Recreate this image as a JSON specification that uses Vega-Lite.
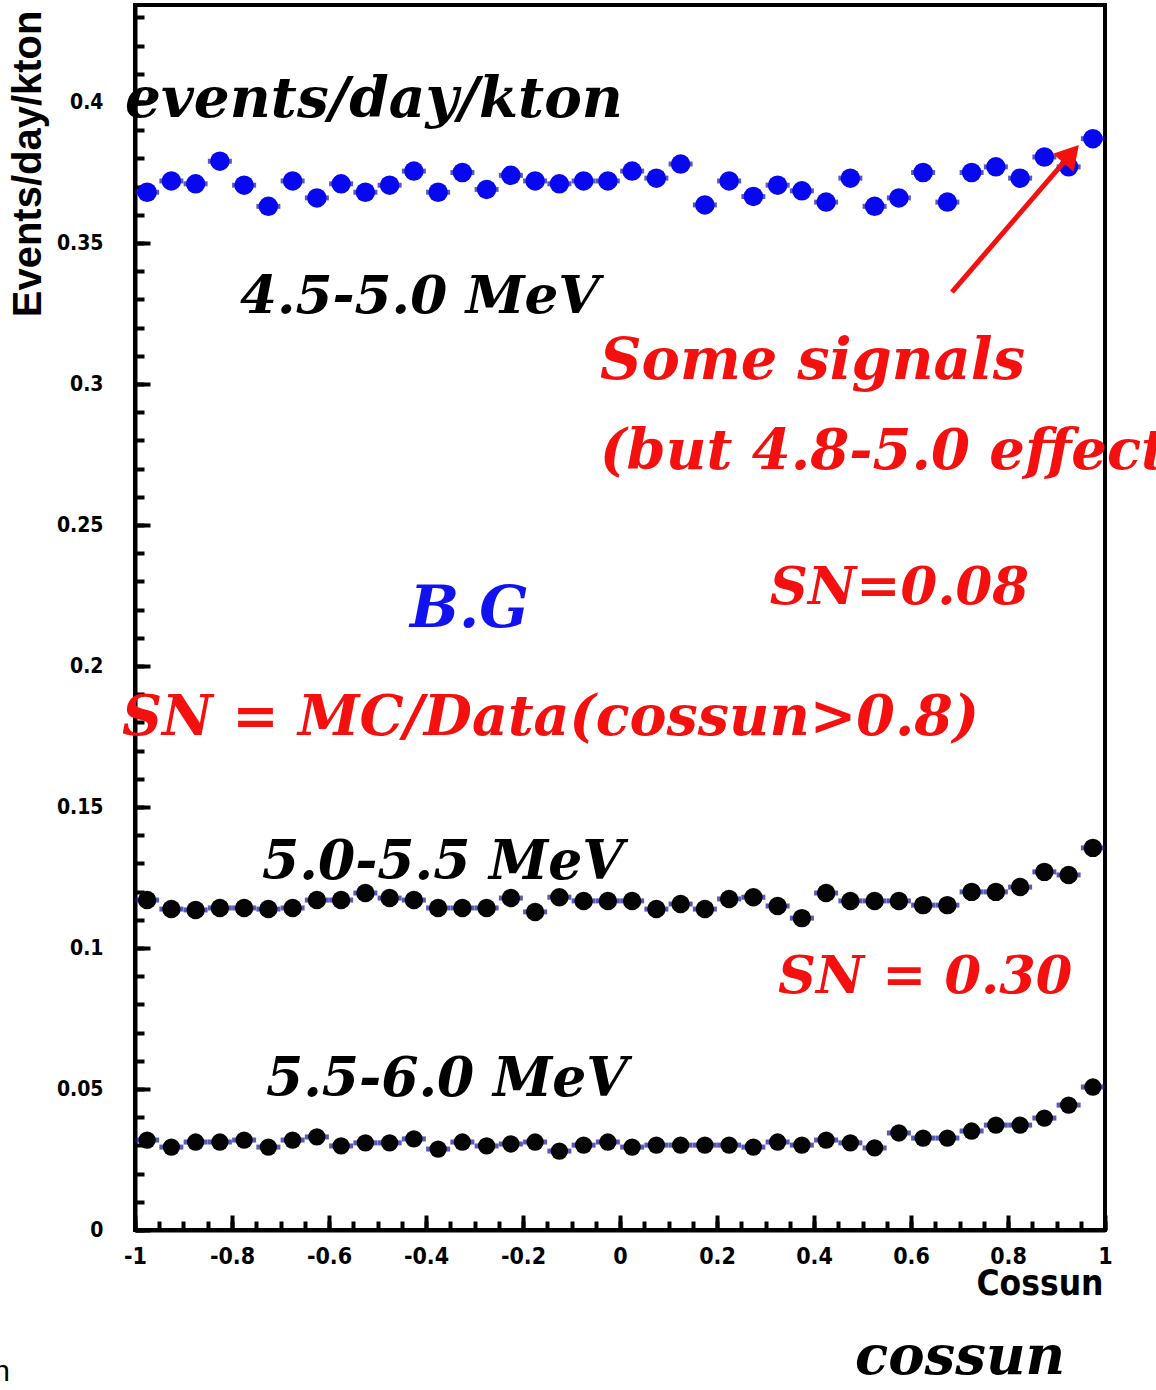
{
  "$schema": "https://vega.github.io/schema/vega-lite/v6.json",
  "width": 970,
  "height": 1225,
  "autosize": "none",
  "padding": {"left": 135, "top": 5, "right": 51, "bottom": 160},
  "background": "white",
  "config": {"view": {"stroke": "black", "strokeWidth": 4}, "axis": {"grid": false}},
  "datasets": {
    "one": [{}],
    "pts": [
      {"band": "4.5-5.0 MeV", "cossun": -0.975, "rate": 0.368},
      {"band": "4.5-5.0 MeV", "cossun": -0.925, "rate": 0.372},
      {"band": "4.5-5.0 MeV", "cossun": -0.875, "rate": 0.371},
      {"band": "4.5-5.0 MeV", "cossun": -0.825, "rate": 0.379},
      {"band": "4.5-5.0 MeV", "cossun": -0.775, "rate": 0.3705},
      {"band": "4.5-5.0 MeV", "cossun": -0.725, "rate": 0.363},
      {"band": "4.5-5.0 MeV", "cossun": -0.675, "rate": 0.372},
      {"band": "4.5-5.0 MeV", "cossun": -0.625, "rate": 0.366},
      {"band": "4.5-5.0 MeV", "cossun": -0.575, "rate": 0.371},
      {"band": "4.5-5.0 MeV", "cossun": -0.525, "rate": 0.368},
      {"band": "4.5-5.0 MeV", "cossun": -0.475, "rate": 0.3705},
      {"band": "4.5-5.0 MeV", "cossun": -0.425, "rate": 0.3755},
      {"band": "4.5-5.0 MeV", "cossun": -0.375, "rate": 0.368},
      {"band": "4.5-5.0 MeV", "cossun": -0.325, "rate": 0.375},
      {"band": "4.5-5.0 MeV", "cossun": -0.275, "rate": 0.369},
      {"band": "4.5-5.0 MeV", "cossun": -0.225, "rate": 0.374},
      {"band": "4.5-5.0 MeV", "cossun": -0.175, "rate": 0.372},
      {"band": "4.5-5.0 MeV", "cossun": -0.125, "rate": 0.371},
      {"band": "4.5-5.0 MeV", "cossun": -0.075, "rate": 0.372},
      {"band": "4.5-5.0 MeV", "cossun": -0.025, "rate": 0.372},
      {"band": "4.5-5.0 MeV", "cossun": 0.025, "rate": 0.3755},
      {"band": "4.5-5.0 MeV", "cossun": 0.075, "rate": 0.373},
      {"band": "4.5-5.0 MeV", "cossun": 0.125, "rate": 0.378},
      {"band": "4.5-5.0 MeV", "cossun": 0.175, "rate": 0.3635},
      {"band": "4.5-5.0 MeV", "cossun": 0.225, "rate": 0.372},
      {"band": "4.5-5.0 MeV", "cossun": 0.275, "rate": 0.3665},
      {"band": "4.5-5.0 MeV", "cossun": 0.325, "rate": 0.3705},
      {"band": "4.5-5.0 MeV", "cossun": 0.375, "rate": 0.3685},
      {"band": "4.5-5.0 MeV", "cossun": 0.425, "rate": 0.3645},
      {"band": "4.5-5.0 MeV", "cossun": 0.475, "rate": 0.373},
      {"band": "4.5-5.0 MeV", "cossun": 0.525, "rate": 0.363},
      {"band": "4.5-5.0 MeV", "cossun": 0.575, "rate": 0.366},
      {"band": "4.5-5.0 MeV", "cossun": 0.625, "rate": 0.375},
      {"band": "4.5-5.0 MeV", "cossun": 0.675, "rate": 0.3645},
      {"band": "4.5-5.0 MeV", "cossun": 0.725, "rate": 0.375},
      {"band": "4.5-5.0 MeV", "cossun": 0.775, "rate": 0.377},
      {"band": "4.5-5.0 MeV", "cossun": 0.825, "rate": 0.373},
      {"band": "4.5-5.0 MeV", "cossun": 0.875, "rate": 0.3805},
      {"band": "4.5-5.0 MeV", "cossun": 0.925, "rate": 0.377},
      {"band": "4.5-5.0 MeV", "cossun": 0.975, "rate": 0.387},
      {"band": "5.0-5.5 MeV", "cossun": -0.975, "rate": 0.117},
      {"band": "5.0-5.5 MeV", "cossun": -0.925, "rate": 0.1138},
      {"band": "5.0-5.5 MeV", "cossun": -0.875, "rate": 0.1135},
      {"band": "5.0-5.5 MeV", "cossun": -0.825, "rate": 0.1142},
      {"band": "5.0-5.5 MeV", "cossun": -0.775, "rate": 0.1142},
      {"band": "5.0-5.5 MeV", "cossun": -0.725, "rate": 0.1138},
      {"band": "5.0-5.5 MeV", "cossun": -0.675, "rate": 0.1142},
      {"band": "5.0-5.5 MeV", "cossun": -0.625, "rate": 0.117},
      {"band": "5.0-5.5 MeV", "cossun": -0.575, "rate": 0.117},
      {"band": "5.0-5.5 MeV", "cossun": -0.525, "rate": 0.1195},
      {"band": "5.0-5.5 MeV", "cossun": -0.475, "rate": 0.1177},
      {"band": "5.0-5.5 MeV", "cossun": -0.425, "rate": 0.117},
      {"band": "5.0-5.5 MeV", "cossun": -0.375, "rate": 0.1142},
      {"band": "5.0-5.5 MeV", "cossun": -0.325, "rate": 0.1142},
      {"band": "5.0-5.5 MeV", "cossun": -0.275, "rate": 0.1142},
      {"band": "5.0-5.5 MeV", "cossun": -0.225, "rate": 0.1177},
      {"band": "5.0-5.5 MeV", "cossun": -0.175, "rate": 0.1128},
      {"band": "5.0-5.5 MeV", "cossun": -0.125, "rate": 0.118},
      {"band": "5.0-5.5 MeV", "cossun": -0.075, "rate": 0.1167},
      {"band": "5.0-5.5 MeV", "cossun": -0.025, "rate": 0.1167},
      {"band": "5.0-5.5 MeV", "cossun": 0.025, "rate": 0.1167},
      {"band": "5.0-5.5 MeV", "cossun": 0.075, "rate": 0.1138},
      {"band": "5.0-5.5 MeV", "cossun": 0.125, "rate": 0.1156},
      {"band": "5.0-5.5 MeV", "cossun": 0.175, "rate": 0.1138},
      {"band": "5.0-5.5 MeV", "cossun": 0.225, "rate": 0.1174},
      {"band": "5.0-5.5 MeV", "cossun": 0.275, "rate": 0.118},
      {"band": "5.0-5.5 MeV", "cossun": 0.325, "rate": 0.1149},
      {"band": "5.0-5.5 MeV", "cossun": 0.375, "rate": 0.1106},
      {"band": "5.0-5.5 MeV", "cossun": 0.425, "rate": 0.1195},
      {"band": "5.0-5.5 MeV", "cossun": 0.475, "rate": 0.1167},
      {"band": "5.0-5.5 MeV", "cossun": 0.525, "rate": 0.1167},
      {"band": "5.0-5.5 MeV", "cossun": 0.575, "rate": 0.1167},
      {"band": "5.0-5.5 MeV", "cossun": 0.625, "rate": 0.1152},
      {"band": "5.0-5.5 MeV", "cossun": 0.675, "rate": 0.1152},
      {"band": "5.0-5.5 MeV", "cossun": 0.725, "rate": 0.1199},
      {"band": "5.0-5.5 MeV", "cossun": 0.775, "rate": 0.1199},
      {"band": "5.0-5.5 MeV", "cossun": 0.825, "rate": 0.1216},
      {"band": "5.0-5.5 MeV", "cossun": 0.875, "rate": 0.127},
      {"band": "5.0-5.5 MeV", "cossun": 0.925, "rate": 0.1259},
      {"band": "5.0-5.5 MeV", "cossun": 0.975, "rate": 0.1355},
      {"band": "5.5-6.0 MeV", "cossun": -0.975, "rate": 0.0319},
      {"band": "5.5-6.0 MeV", "cossun": -0.925, "rate": 0.0294},
      {"band": "5.5-6.0 MeV", "cossun": -0.875, "rate": 0.0312},
      {"band": "5.5-6.0 MeV", "cossun": -0.825, "rate": 0.0312},
      {"band": "5.5-6.0 MeV", "cossun": -0.775, "rate": 0.0319},
      {"band": "5.5-6.0 MeV", "cossun": -0.725, "rate": 0.0294},
      {"band": "5.5-6.0 MeV", "cossun": -0.675, "rate": 0.0319},
      {"band": "5.5-6.0 MeV", "cossun": -0.625, "rate": 0.033},
      {"band": "5.5-6.0 MeV", "cossun": -0.575, "rate": 0.0298},
      {"band": "5.5-6.0 MeV", "cossun": -0.525, "rate": 0.0309},
      {"band": "5.5-6.0 MeV", "cossun": -0.475, "rate": 0.0309},
      {"band": "5.5-6.0 MeV", "cossun": -0.425, "rate": 0.0323},
      {"band": "5.5-6.0 MeV", "cossun": -0.375, "rate": 0.0287},
      {"band": "5.5-6.0 MeV", "cossun": -0.325, "rate": 0.0312},
      {"band": "5.5-6.0 MeV", "cossun": -0.275, "rate": 0.0298},
      {"band": "5.5-6.0 MeV", "cossun": -0.225, "rate": 0.0305},
      {"band": "5.5-6.0 MeV", "cossun": -0.175, "rate": 0.0312},
      {"band": "5.5-6.0 MeV", "cossun": -0.125, "rate": 0.028},
      {"band": "5.5-6.0 MeV", "cossun": -0.075, "rate": 0.0301},
      {"band": "5.5-6.0 MeV", "cossun": -0.025, "rate": 0.0312},
      {"band": "5.5-6.0 MeV", "cossun": 0.025, "rate": 0.0294},
      {"band": "5.5-6.0 MeV", "cossun": 0.075, "rate": 0.0301},
      {"band": "5.5-6.0 MeV", "cossun": 0.125, "rate": 0.0301},
      {"band": "5.5-6.0 MeV", "cossun": 0.175, "rate": 0.0301},
      {"band": "5.5-6.0 MeV", "cossun": 0.225, "rate": 0.0301},
      {"band": "5.5-6.0 MeV", "cossun": 0.275, "rate": 0.0294},
      {"band": "5.5-6.0 MeV", "cossun": 0.325, "rate": 0.0312},
      {"band": "5.5-6.0 MeV", "cossun": 0.375, "rate": 0.0301},
      {"band": "5.5-6.0 MeV", "cossun": 0.425, "rate": 0.0319},
      {"band": "5.5-6.0 MeV", "cossun": 0.475, "rate": 0.0309},
      {"band": "5.5-6.0 MeV", "cossun": 0.525, "rate": 0.0291},
      {"band": "5.5-6.0 MeV", "cossun": 0.575, "rate": 0.0344},
      {"band": "5.5-6.0 MeV", "cossun": 0.625, "rate": 0.0326},
      {"band": "5.5-6.0 MeV", "cossun": 0.675, "rate": 0.0326},
      {"band": "5.5-6.0 MeV", "cossun": 0.725, "rate": 0.0351},
      {"band": "5.5-6.0 MeV", "cossun": 0.775, "rate": 0.0372},
      {"band": "5.5-6.0 MeV", "cossun": 0.825, "rate": 0.0372},
      {"band": "5.5-6.0 MeV", "cossun": 0.875, "rate": 0.0397},
      {"band": "5.5-6.0 MeV", "cossun": 0.925, "rate": 0.0443},
      {"band": "5.5-6.0 MeV", "cossun": 0.975, "rate": 0.0507}
    ]
  },
  "resolve": {"axis": {"x": "independent", "y": "independent"}},
  "layer": [
    {
      "data": {"name": "pts"},
      "mark": {"type": "tick", "orient": "horizontal", "size": 24, "thickness": 5, "color": "#12129c"},
      "encoding": {
        "x": {"field": "cossun", "type": "quantitative", "scale": {"domain": [-1, 1], "nice": false, "zero": false},
          "axis": {"orient": "bottom", "values": [-1, -0.8, -0.6, -0.4, -0.2, 0, 0.2, 0.4, 0.6, 0.8, 1],
            "tickSize": -15, "tickWidth": 4, "tickColor": "black", "domainWidth": 4, "domainColor": "black",
            "labelFont": "Liberation Sans Narrow, DejaVu Sans Condensed, Roboto Condensed, Liberation Sans", "labelFontWeight": "bold", "labelFontSize": 23, "labelColor": "black",
            "labelPadding": 30, "labelExpr": "replace(format(datum.value, '.1~f'), '\u2212', '-')", "labelFlush": false, "labelOverlap": false,
            "title": "Cossun", "titleFont": "Liberation Sans Narrow, DejaVu Sans Condensed, Roboto Condensed, Liberation Sans", "titleFontWeight": "bold", "titleFontSize": 35, "titleColor": "black",
            "titleX": 968, "titleY": 53, "titleAlign": "right", "titleBaseline": "middle"}},
        "y": {"field": "rate", "type": "quantitative", "scale": {"domain": [0, 0.4344], "nice": false, "zero": false},
          "axis": {"orient": "left", "values": [0, 0.05, 0.1, 0.15, 0.2, 0.25, 0.3, 0.35, 0.4],
            "tickSize": -15, "tickWidth": 4, "tickColor": "black", "domainWidth": 4, "domainColor": "black",
            "labelFont": "Liberation Sans Narrow, DejaVu Sans Condensed, Roboto Condensed, Liberation Sans", "labelFontWeight": "bold", "labelFontSize": 21, "labelColor": "black",
            "labelPadding": 47, "labelExpr": "format(datum.value, '.2~f')", "labelFlush": false, "labelOverlap": false,
            "title": "Events/day/kton", "titleFont": "Liberation Sans", "titleFontWeight": "bold", "titleFontSize": 40, "titleColor": "black",
            "titleX": -107, "titleY": 5, "titleAngle": -90, "titleAlign": "right", "titleBaseline": "middle"}}
      }
    },
    {
      "data": {"name": "pts"},
      "mark": {"type": "point", "filled": true, "shape": "circle", "opacity": 1},
      "encoding": {
        "x": {"field": "cossun", "type": "quantitative",
          "axis": {"orient": "bottom", "values": [-1, -0.95, -0.9, -0.85, -0.8, -0.75, -0.7, -0.65, -0.6, -0.55, -0.5, -0.45, -0.4, -0.35, -0.3, -0.25, -0.2, -0.15, -0.1, -0.05, 0, 0.05, 0.1, 0.15, 0.2, 0.25, 0.3, 0.35, 0.4, 0.45, 0.5, 0.55, 0.6, 0.65, 0.7, 0.75, 0.8, 0.85, 0.9, 0.95, 1],
            "tickSize": -9, "tickWidth": 4, "tickColor": "black", "domain": false, "labels": false, "title": null}},
        "y": {"field": "rate", "type": "quantitative",
          "axis": {"orient": "left", "values": [0, 0.01, 0.02, 0.03, 0.04, 0.05, 0.06, 0.07, 0.08, 0.09, 0.1, 0.11, 0.12, 0.13, 0.14, 0.15, 0.16, 0.17, 0.18, 0.19, 0.2, 0.21, 0.22, 0.23, 0.24, 0.25, 0.26, 0.27, 0.28, 0.29, 0.3, 0.31, 0.32, 0.33, 0.34, 0.35, 0.36, 0.37, 0.38, 0.39, 0.4, 0.41, 0.42, 0.43],
            "tickSize": -9, "tickWidth": 4, "tickColor": "black", "domain": false, "labels": false, "title": null}},
        "color": {"field": "band", "type": "nominal", "legend": null,
          "scale": {"domain": ["4.5-5.0 MeV", "5.0-5.5 MeV", "5.5-6.0 MeV"], "range": ["#0808f0", "#050505", "#050505"]}},
        "size": {"field": "band", "type": "nominal", "legend": null,
          "scale": {"domain": ["4.5-5.0 MeV", "5.0-5.5 MeV", "5.5-6.0 MeV"], "range": [380, 300, 300]}}
      }
    },
    {
      "data": {"name": "one"},
      "mark": {"type": "rule", "color": "#f51010", "strokeWidth": 5},
      "encoding": {
        "x": {"datum": 0.6845, "type": "quantitative", "axis": null},
        "y": {"datum": 0.3326, "type": "quantitative", "axis": null},
        "x2": {"datum": 0.93},
        "y2": {"datum": 0.3816}
      }
    },
    {
      "data": {"name": "one"},
      "mark": {"type": "point", "shape": "triangle-up", "filled": true, "color": "#f51010", "size": 750, "angle": 41, "opacity": 1},
      "encoding": {
        "x": {"datum": 0.93, "type": "quantitative", "axis": null},
        "y": {"datum": 0.3816, "type": "quantitative", "axis": null}
      }
    },
    {
      "data": {"name": "one"},
      "mark": {"type": "text", "text": "events/day/kton", "font": "DejaVu Serif", "fontStyle": "italic", "fontWeight": "bold", "fontSize": 56.5, "color": "black", "align": "left", "baseline": "middle"},
      "encoding": {"x": {"datum": -1.0206, "type": "quantitative", "axis": null}, "y": {"datum": 0.4007, "type": "quantitative", "axis": null}}
    },
    {
      "data": {"name": "one"},
      "mark": {"type": "text", "text": "4.5-5.0 MeV", "font": "DejaVu Serif", "fontStyle": "italic", "fontWeight": "bold", "fontSize": 53.2, "color": "black", "align": "left", "baseline": "middle"},
      "encoding": {"x": {"datum": -0.7835, "type": "quantitative", "axis": null}, "y": {"datum": 0.331, "type": "quantitative", "axis": null}}
    },
    {
      "data": {"name": "one"},
      "mark": {"type": "text", "text": "Some signals", "font": "DejaVu Serif", "fontStyle": "italic", "fontWeight": "bold", "fontSize": 57.5, "color": "#f51010", "align": "left", "baseline": "middle"},
      "encoding": {"x": {"datum": -0.0412, "type": "quantitative", "axis": null}, "y": {"datum": 0.3078, "type": "quantitative", "axis": null}}
    },
    {
      "data": {"name": "one"},
      "mark": {"type": "text", "text": "(but 4.8-5.0 effect)", "font": "DejaVu Serif", "fontStyle": "italic", "fontWeight": "bold", "fontSize": 56, "color": "#f51010", "align": "left", "baseline": "middle"},
      "encoding": {"x": {"datum": -0.0412, "type": "quantitative", "axis": null}, "y": {"datum": 0.276, "type": "quantitative", "axis": null}}
    },
    {
      "data": {"name": "one"},
      "mark": {"type": "text", "text": "SN=0.08", "font": "DejaVu Serif", "fontStyle": "italic", "fontWeight": "bold", "fontSize": 52.8, "color": "#f51010", "align": "left", "baseline": "middle"},
      "encoding": {"x": {"datum": 0.309, "type": "quantitative", "axis": null}, "y": {"datum": 0.2277, "type": "quantitative", "axis": null}}
    },
    {
      "data": {"name": "one"},
      "mark": {"type": "text", "text": "B.G", "font": "DejaVu Serif", "fontStyle": "italic", "fontWeight": "bold", "fontSize": 58, "color": "#1212f0", "align": "left", "baseline": "middle"},
      "encoding": {"x": {"datum": -0.433, "type": "quantitative", "axis": null}, "y": {"datum": 0.2199, "type": "quantitative", "axis": null}}
    },
    {
      "data": {"name": "one"},
      "mark": {"type": "text", "text": "SN = MC/Data(cossun>0.8)", "font": "DejaVu Serif", "fontStyle": "italic", "fontWeight": "bold", "fontSize": 55.5, "color": "#f51010", "align": "left", "baseline": "middle"},
      "encoding": {"x": {"datum": -1.0268, "type": "quantitative", "axis": null}, "y": {"datum": 0.1816, "type": "quantitative", "axis": null}}
    },
    {
      "data": {"name": "one"},
      "mark": {"type": "text", "text": "5.0-5.5 MeV", "font": "DejaVu Serif", "fontStyle": "italic", "fontWeight": "bold", "fontSize": 53.5, "color": "black", "align": "left", "baseline": "middle"},
      "encoding": {"x": {"datum": -0.738, "type": "quantitative", "axis": null}, "y": {"datum": 0.1301, "type": "quantitative", "axis": null}}
    },
    {
      "data": {"name": "one"},
      "mark": {"type": "text", "text": "SN = 0.30", "font": "DejaVu Serif", "fontStyle": "italic", "fontWeight": "bold", "fontSize": 52.5, "color": "#f51010", "align": "left", "baseline": "middle"},
      "encoding": {"x": {"datum": 0.3258, "type": "quantitative", "axis": null}, "y": {"datum": 0.0897, "type": "quantitative", "axis": null}}
    },
    {
      "data": {"name": "one"},
      "mark": {"type": "text", "text": "5.5-6.0 MeV", "font": "DejaVu Serif", "fontStyle": "italic", "fontWeight": "bold", "fontSize": 53.5, "color": "black", "align": "left", "baseline": "middle"},
      "encoding": {"x": {"datum": -0.730, "type": "quantitative", "axis": null}, "y": {"datum": 0.0532, "type": "quantitative", "axis": null}}
    },
    {
      "data": {"name": "one"},
      "mark": {"type": "text", "text": "cossun", "font": "DejaVu Serif", "fontStyle": "italic", "fontWeight": "bold", "fontSize": 54.5, "color": "black", "align": "left", "baseline": "middle"},
      "encoding": {"x": {"datum": 0.4845, "type": "quantitative", "axis": null}, "y": {"datum": -0.0454, "type": "quantitative", "axis": null}}
    },
    {
      "data": {"name": "one"},
      "mark": {"type": "text", "text": "n", "font": "Liberation Sans", "fontSize": 30, "color": "black", "align": "right", "baseline": "middle"},
      "encoding": {"x": {"datum": -1.258, "type": "quantitative", "axis": null}, "y": {"datum": -0.0504, "type": "quantitative", "axis": null}}
    }
  ]
}
